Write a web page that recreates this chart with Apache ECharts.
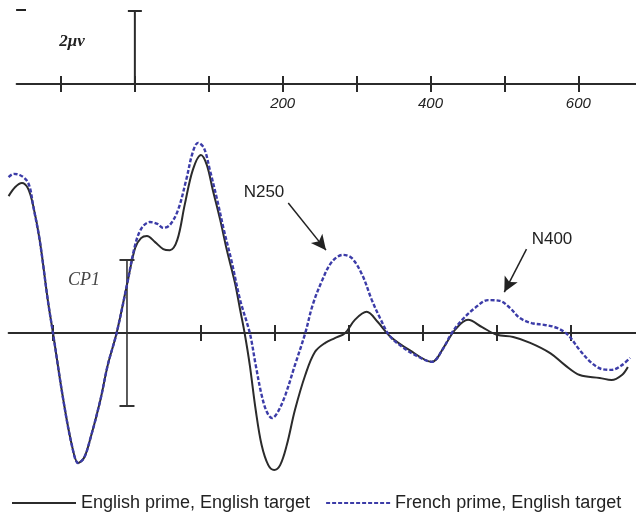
<!DOCTYPE html>
<html>
<head>
<meta charset="utf-8">
<script src="https://cdn.jsdelivr.net/npm/echarts@6/dist/echarts.min.js"></script>
<style>
  html, body { margin: 0; padding: 0; background: #fff; }
  #chart { width: 636px; height: 515px; }
</style>
</head>
<body>
<div id="chart"></div>
<script>
// Time axis (ms) tick marks and labels
const topTicks = [-100, 0, 100, 200, 300, 400, 500, 600];
const topLabels = [200, 400, 600];
const waveTicks = [-100, 100, 200, 300, 400, 500, 600];

// Calibration bars (µV)
const scaleBarUv = 2;      // "2µv" bar above the time axis
const cp1HalfUv = 2;       // CP1 bar, drawn +/- around zero

// Grand-average waveforms at CP1: [time ms, amplitude µV] (negative plotted up)
const englishEnglish = [
  [-160,-3.75],[-151,-4.0],[-142,-4.11],[-134,-3.97],[-127,-3.51],[-118,-2.55],[-107,-0.9],[-100,0],
  [-86,1.84],[-74,3.12],[-66,3.56],[-58,3.42],[-50,2.93],[-36,1.84],[-26,0.88],[-14,0],[0,-1.32],
  [11,-2.33],[19,-2.6],[27,-2.66],[38,-2.49],[49,-2.3],[58,-2.27],[68,-2.55],[78,-3.51],[89,-4.47],
  [100,-4.88],[108,-4.6],[116,-3.92],[126,-3.1],[135,-2.27],[146,-1.37],[153,-0.63],[159,0],[166,0.88],
  [174,2.11],[182,3.07],[191,3.62],[199,3.75],[207,3.62],[216,3.07],[227,2.11],[241,1.15],[254,0.52],
  [268,0.27],[281,0.14],[295,0],[308,-0.36],[324,-0.58],[339,-0.3],[355,0.08],[382,0.47],[412,0.79],
  [430,0.33],[443,-0.08],[461,-0.36],[480,-0.16],[500,0.05],[522,0.11],[545,0.27],[572,0.55],[592,0.88],
  [612,1.15],[639,1.23],[655,1.29],[669,1.15],[677,0.93]
];
const frenchEnglish = [
  [-160,-4.27],[-153,-4.36],[-145,-4.33],[-136,-4.19],[-131,-3.97],[-127,-3.51],[-118,-2.55],[-107,-0.9],
  [-100,0],[-86,1.84],[-74,3.12],[-66,3.56],[-58,3.42],[-50,2.93],[-36,1.84],[-26,0.88],[-14,0],[0,-1.32],
  [11,-2.41],[20,-2.88],[31,-3.04],[41,-2.99],[49,-2.88],[58,-2.96],[69,-3.37],[80,-4.19],[89,-4.96],
  [96,-5.21],[104,-5.07],[112,-4.47],[122,-3.64],[131,-2.82],[141,-2.0],[153,-0.9],[166,0],[174,0.88],
  [182,1.7],[189,2.16],[196,2.33],[204,2.16],[214,1.7],[227,0.88],[241,0],[251,-0.77],[264,-1.45],
  [277,-1.95],[292,-2.14],[304,-2.05],[318,-1.59],[331,-0.9],[342,-0.41],[355,0.08],[372,0.38],[389,0.6],
  [412,0.79],[426,0.47],[439,0],[453,-0.36],[470,-0.68],[488,-0.9],[504,-0.88],[518,-0.68],[531,-0.41],
  [547,-0.27],[565,-0.22],[581,-0.14],[596,0.05],[612,0.47],[628,0.82],[642,0.99],[655,1.01],[669,0.88],
  [680,0.68]
];

// Component labels and their arrows: [from, to] in [ms, µV]
const n250Arrow = [[218, -3.56], [269, -2.27]];
const n400Arrow = [[540, -2.30], [510, -1.12]];

const seriesNames = ['English prime, English target', 'French prime, English target'];

const INK = '#2b2b2b';
const BLUE = '#3c3ca8';

const chart = echarts.init(document.getElementById('chart'), null, { renderer: 'canvas' });

function timeAxis(gridIndex, min, max, pos, ticks, labels, showLine) {
  return {
    type: 'value', gridIndex, min, max, position: pos,
    axisLine: { show: true, onZero: true, onZeroAxisIndex: gridIndex,
      lineStyle: { color: INK, width: 2, opacity: showLine ? 1 : 0 } },
    axisTick: { show: true, inside: true, length: 8, customValues: ticks,
      lineStyle: { color: INK, width: 2 } },
    axisLabel: labels ? {
      show: true, customValues: labels, margin: 12,
      fontFamily: 'Liberation Sans', fontStyle: 'italic', fontSize: 15, color: '#222'
    } : { show: false },
    splitLine: { show: false }
  };
}

const option = {
  animation: false,
  backgroundColor: '#fff',
  grid: [
    { left: 16.6, top: 11, width: 620, height: 73 },
    { left: 8.6, top: 114, width: 627.5, height: 365 }
  ],
  xAxis: [
    timeAxis(0, -160, 678, 'bottom', topTicks, topLabels, true),
    timeAxis(0, -160, 678, 'top', topTicks, null, false),
    timeAxis(1, -160, 688, 'bottom', waveTicks, null, true),
    timeAxis(1, -160, 688, 'top', waveTicks, null, false)
  ],
  yAxis: [
    { type: 'value', gridIndex: 0, min: -scaleBarUv, max: 0, inverse: true, show: false },
    { type: 'value', gridIndex: 1, min: -6, max: 4, inverse: true, show: false }
  ],
  legend: {
    data: seriesNames,
    left: 6, top: 489,
    itemWidth: 64, itemHeight: 12, itemGap: 15,
    itemStyle: { opacity: 0 },
    textStyle: { fontFamily: 'Liberation Sans', fontSize: 18, color: '#222' }
  },
  series: [
    {
      name: 'scale', type: 'line', xAxisIndex: 0, yAxisIndex: 0,
      data: [[0, 0], [0, -scaleBarUv]],
      symbol: (v, p) => p.dataIndex === 1 ? 'rect' : 'none',
      symbolSize: [14, 2], showSymbol: true,
      itemStyle: { color: INK }, lineStyle: { color: INK, width: 2 },
      silent: true
    },
    {
      name: 'cp1', type: 'line', xAxisIndex: 2, yAxisIndex: 1,
      data: [[0, -cp1HalfUv], [0, cp1HalfUv]],
      symbol: 'rect', symbolSize: [15, 2], showSymbol: true,
      itemStyle: { color: '#333' }, lineStyle: { color: '#333', width: 1.6 },
      silent: true
    },
    {
      name: seriesNames[0], type: 'line', xAxisIndex: 2, yAxisIndex: 1,
      data: englishEnglish, smooth: 0.35, symbol: 'none', showSymbol: false,
      lineStyle: { color: INK, width: 2 }, itemStyle: { color: INK }
    },
    {
      name: seriesNames[1], type: 'line', xAxisIndex: 2, yAxisIndex: 1,
      data: frenchEnglish, smooth: 0.35, symbol: 'none', showSymbol: false,
      lineStyle: { color: BLUE, width: 2.4, type: [4, 2] }, itemStyle: { color: BLUE },
      markLine: {
        silent: true, symbol: ['none', 'arrow'], symbolSize: [11, 15],
        label: { show: false },
        lineStyle: { color: '#222', width: 1.5, type: 'solid' },
        emphasis: { disabled: true },
        data: [
          [{ coord: n250Arrow[0] }, { coord: n250Arrow[1] }],
          [{ coord: n400Arrow[0] }, { coord: n400Arrow[1] }]
        ]
      }
    }
  ],
  graphic: [
    { type: 'text', x: 21, y: 9, style: { text: '\u2013', font: 'bold 20px Liberation Sans', fill: '#222', align: 'center', verticalAlign: 'middle' } },
    { type: 'text', x: 72, y: 42, style: { text: '2\u03bcv', font: 'italic bold 17px Liberation Serif', fill: '#222', align: 'center', verticalAlign: 'middle' } },
    { type: 'text', x: 84, y: 280, style: { text: 'CP1', font: 'italic 18px Liberation Serif', fill: '#444', align: 'center', verticalAlign: 'middle' } },
    { type: 'text', x: 264, y: 192, style: { text: 'N250', font: '17px Liberation Sans', fill: '#222', align: 'center', verticalAlign: 'middle' } },
    { type: 'text', x: 552, y: 239, style: { text: 'N400', font: '17px Liberation Sans', fill: '#222', align: 'center', verticalAlign: 'middle' } }
  ]
};

chart.setOption(option);
</script>
</body>
</html>
